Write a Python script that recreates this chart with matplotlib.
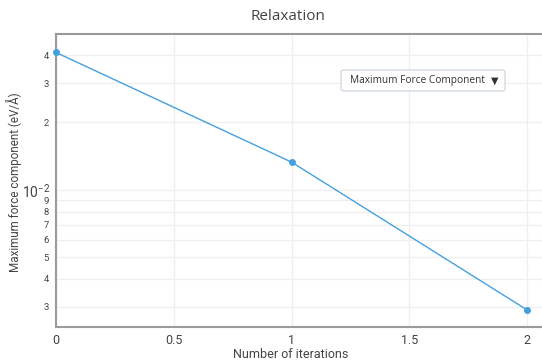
import numpy as np
import matplotlib
matplotlib.use("Agg")
import matplotlib.pyplot as plt
from matplotlib.patches import FancyBboxPatch
from matplotlib.ticker import FixedLocator, FixedFormatter

# relaxation history: max force component per ionic step
iterations = [0, 1, 2]
max_force = [0.0411, 0.01331, 0.00291]

x_ticks = [0, 0.5, 1, 1.5, 2]
x_tick_labels = ["0", "0.5", "1", "1.5", "2"]
y_major = [0.01]
y_minor = [0.003, 0.004, 0.005, 0.006, 0.007, 0.008, 0.009, 0.02, 0.03, 0.04]
y_minor_labels = ["3", "4", "5", "6", "7", "8", "9", "2", "3", "4"]

plt.rcParams["font.family"] = ["Roboto", "DejaVu Sans"]
plt.rcParams["mathtext.fontset"] = "custom"
plt.rcParams["mathtext.rm"] = "Roboto"

text_col = "#444444"
line_col = "#45a0de"

W, H = 542, 362
px_per_unit = 235.5
x_max = 2.12
fig = plt.figure(figsize=(W / 100, H / 100), dpi=100)
ax = fig.add_axes([56 / W, 1 - 327 / H, x_max * px_per_unit / W, (327 - 34) / H])

ax.plot(iterations, max_force, color=line_col, lw=1.0, marker="o",
        markersize=4, zorder=3, clip_on=False)

ax.set_yscale("log")
ax.set_xlim(0, x_max)
ax.set_ylim(0.00244, 0.0497)

ax.xaxis.set_major_locator(FixedLocator(x_ticks))
ax.xaxis.set_major_formatter(FixedFormatter(x_tick_labels))
ax.yaxis.set_major_locator(FixedLocator(y_major))
ax.yaxis.set_major_formatter(FixedFormatter([r"$\mathrm{10^{-2}}$"]))
ax.yaxis.set_minor_locator(FixedLocator(y_minor))
ax.yaxis.set_minor_formatter(FixedFormatter(y_minor_labels))

ax.tick_params(axis="x", which="major", length=0, pad=5, labelsize=9,
               labelcolor=text_col)
ax.tick_params(axis="y", which="major", length=0, pad=4, labelsize=10,
               labelcolor=text_col)
ax.tick_params(axis="y", which="minor", length=0, pad=5, labelsize=6.8,
               labelcolor=text_col)

ax.grid(True, which="both", color="#efefef", lw=0.9)
ax.set_axisbelow(True)

for side in ["left", "bottom", "top"]:
    ax.spines[side].set_color("#9a9a9a")
    ax.spines[side].set_linewidth(1.5)
ax.spines["right"].set_visible(False)

fig.text(291 / W, 1 - 355 / H, "Number of iterations", ha="center",
         va="center", fontsize=9, color=text_col)
fig.text(14 / W, 1 - 182 / H, "Maximum force component (eV/Å)", ha="center",
         va="center", rotation=90, fontsize=8.4, color=text_col)

fig.text(288 / W, 1 - 17 / H, "Relaxation", ha="center", va="center",
         fontsize=11, color=text_col, family=["Open Sans", "DejaVu Sans"])

# dropdown-style selector
box = FancyBboxPatch((341 / W, 1 - 91 / H), 164 / W, 21 / H,
                     boxstyle="round,pad=0,rounding_size=0.006",
                     transform=fig.transFigure, fc="white", ec="#cfd6e0",
                     lw=0.9)
fig.add_artist(box)
fig.text(350 / W, 1 - 80.5 / H, "Maximum Force Component", ha="left",
         va="center", fontsize=7.3, color="#333333",
         family=["Open Sans", "DejaVu Sans"])
fig.text(495 / W, 1 - 80.5 / H, "▼", ha="center", va="center", fontsize=7,
         color="#333333", family=["DejaVu Sans"])

fig.savefig("out.png", dpi=100)
